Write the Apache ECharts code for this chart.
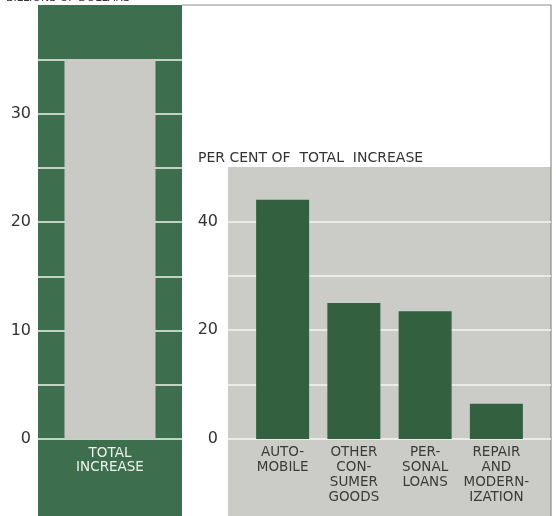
<!DOCTYPE html>
<html>
<head>
<meta charset="utf-8">
<script src="https://cdn.jsdelivr.net/npm/echarts@6/dist/echarts.min.js"></script>
<style>
  html, body { margin: 0; padding: 0; background: #fff; }
  #chart { width: 556px; height: 516px; }
</style>
</head>
<body>
<div id="chart"></div>
<script>
// left panel: total increase, billions of dollars
var totalCats = ['TOTAL\nINCREASE'];
var totalValues = [35];
var totalTickLabels = [0, 10, 20, 30];

// right panel: per cent of total increase
var shareCats = ['AUTO-\nMOBILE', 'OTHER\nCON-\nSUMER\nGOODS', 'PER-\nSONAL\nLOANS', 'REPAIR\nAND\nMODERN-\nIZATION'];
var shareValues = [44, 25, 23.5, 6.5];
var shareTickLabels = [0, 20, 40];

var FONT = 'DejaVu Sans';
var GREEN = '#3d6e4e';
var BAR_GREEN = '#33603f';
var GRAY = '#cbccc7';

var option = {
    animation: false,
    textStyle: { fontFamily: FONT },
    graphic: [
        { type: 'rect', z: -10, silent: true, shape: { x: 38, y: 5, width: 144, height: 511 }, style: { fill: GREEN } },
        { type: 'rect', z: -10, silent: true, shape: { x: 228, y: 167, width: 323, height: 349 }, style: { fill: GRAY } },
        { type: 'polyline', z: -9, silent: true, shape: { points: [[182, 5], [551, 5], [551, 516]] }, style: { stroke: '#8c8c8c', lineWidth: 1.2, fill: null } },
        { type: 'text', x: 6, y: -7, style: { text: 'BILLIONS OF DOLLARS', fill: '#333', font: '11px "DejaVu Sans"' } },
        { type: 'text', left: 198, top: 151, style: { text: 'PER CENT OF  TOTAL  INCREASE', fill: '#333', font: '14px "DejaVu Sans"' } }
    ],
    grid: [
        { left: 38, width: 144, top: 5, bottom: 77 },
        { left: 228, width: 323, top: 167, bottom: 77 },
        { left: 247, width: 285, top: 167, bottom: 77 }
    ],
    xAxis: [
        {
            type: 'category', gridIndex: 0, data: totalCats,
            axisLine: { show: false }, axisTick: { show: false },
            axisLabel: { color: '#eef3ee', fontSize: 13.5, lineHeight: 14, margin: 7 }
        },
        { type: 'category', gridIndex: 1, data: [''], show: false },
        {
            type: 'category', gridIndex: 2, data: shareCats,
            axisLine: { show: false }, axisTick: { show: false },
            axisLabel: { color: '#3a3a3a', fontSize: 13.5, lineHeight: 15, margin: 6, interval: 0 }
        }
    ],
    yAxis: [
        {
            type: 'value', gridIndex: 0, min: 0, max: 40, interval: 5,
            axisLine: { show: false }, axisTick: { show: false },
            splitLine: { show: true, showMaxLine: false, lineStyle: { color: '#f2f4ef', width: 1.5 } },
            axisLabel: {
                color: '#333', fontSize: 16, margin: 7,
                formatter: function (v) { return totalTickLabels.indexOf(v) >= 0 ? String(v) : ''; }
            }
        },
        {
            type: 'value', gridIndex: 1, min: 0, max: 50, interval: 10,
            axisLine: { show: false }, axisTick: { show: false },
            splitLine: { show: true, showMaxLine: false, lineStyle: { color: '#f4f4f0', width: 1.5 } },
            axisLabel: {
                color: '#333', fontSize: 16, margin: 10,
                formatter: function (v) { return shareTickLabels.indexOf(v) >= 0 ? String(v) : ''; }
            }
        },
        { type: 'value', gridIndex: 2, min: 0, max: 50, show: false }
    ],
    series: [
        {
            name: 'total', type: 'bar', xAxisIndex: 0, yAxisIndex: 0,
            data: totalValues, barWidth: 91,
            itemStyle: { color: '#c9cac5' }
        },
        {
            name: 'share', type: 'bar', xAxisIndex: 2, yAxisIndex: 2,
            data: shareValues, barWidth: 53,
            itemStyle: { color: BAR_GREEN }
        }
    ]
};

var chart = echarts.init(document.getElementById('chart'));
chart.setOption(option);
</script>
</body>
</html>
